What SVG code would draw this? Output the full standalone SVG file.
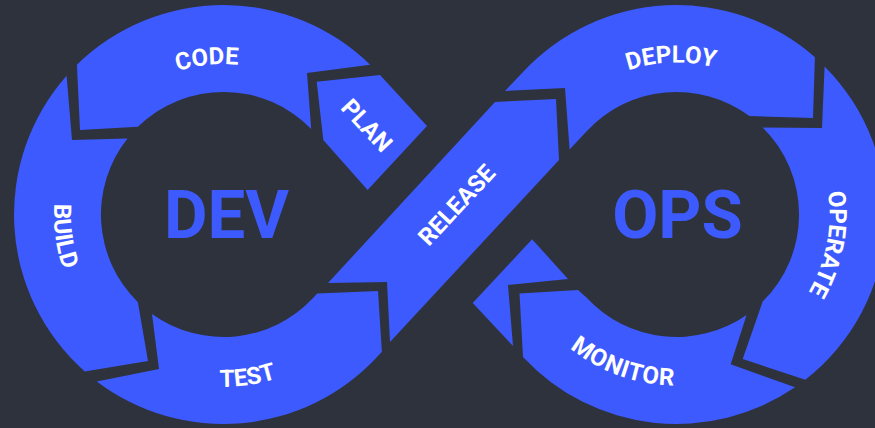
<svg xmlns="http://www.w3.org/2000/svg" width="875" height="428" viewBox="0 0 875 428">
  <defs>
    <style>
      .seg { fill: #3d5afe; }
      .lbl { font-family: Roboto, "Liberation Sans", Arial, sans-serif; font-weight: 700; font-size: 24px; fill: #ffffff; }
      .hub { font-family: Roboto, "Liberation Sans", Arial, sans-serif; font-weight: 700; font-size: 67px; fill: #3d5afe; text-anchor: middle; }
    </style>
    <!-- baseline arcs for the curved stage labels -->
    <path id="arc-code" d="M77.5,178.4 A150.4,150.4 0 0 1 358.6,148.3"/>
    <path id="arc-build" d="M144.7,64.4 A169.5,169.5 0 0 0 187.4,380.1"/>
    <path id="arc-test" d="M71.9,296.4 A172.3,172.3 0 0 0 392.3,249.1"/>
    <path id="arc-deploy" d="M531.9,167.5 A152,152 0 0 1 817.4,157.6"/>
    <path id="arc-operate" d="M755.1,83.2 A153,153 0 0 1 700.7,365.6"/>
    <path id="arc-monitor" d="M505.5,216 A171,171 0 0 0 808,323.8"/>
  </defs>

  <rect width="875" height="428" fill="#2e323c"/>

  <!-- DEV loop -->
  <g id="plan">
    <path class="seg" d="M316.7,81.7 L380,75 L427,126 L367.6,190 L323.3,140 Z"/>
    <path class="seg" d="M532.1,239.2 L568,279 L508,285 L513,346 L472.7,303.1 Z"/>
    <text class="lbl" text-anchor="middle" transform="translate(360.7,131) rotate(47)">PLAN</text>
  </g>

  <g id="code">
    <path class="seg" d="M370.1,64.8 A209.5,209.5 0 0 0 76.9,64.8 L80,130 L137.9,126.8 A122.5,122.5 0 0 1 311.2,128.9 L307,73 Z"/>
    <text class="lbl"><textPath href="#arc-code" startOffset="50%" text-anchor="middle">CODE</textPath></text>
  </g>

  <g id="build">
    <path class="seg" d="M66.6,75.7 A209.5,209.5 0 0 0 84.7,371.4 L148,361 L137.9,302.2 A122.5,122.5 0 0 1 127.5,138.4 L72,140 Z"/>
    <text class="lbl"><textPath href="#arc-build" startOffset="50%" text-anchor="middle">BUILD</textPath></text>
  </g>

  <g id="test">
    <path class="seg" d="M96.8,381.4 A209.5,209.5 0 0 0 377,357 L381.9,351.7 L378,291 L317.2,293.4 L313.3,297.8 A122.5,122.5 0 0 1 152,314 L159,369 Z"/>
    <text class="lbl"><textPath href="#arc-test" startOffset="50%" text-anchor="middle">TEST</textPath></text>
  </g>

  <g id="release">
    <path class="seg" d="M328,283 L495,102 L556,99 L559,160 L390,342 L387,282 Z"/>
    <text class="lbl" text-anchor="middle" transform="translate(462.8,210.5) rotate(-47)">RELEASE</text>
  </g>

  <!-- OPS loop -->
  <g id="deploy">
    <path class="seg" d="M505,91 L523,72 A209.5,209.5 0 0 1 814.9,57.2 L813,118 L749.4,116 A122.5,122.5 0 0 0 586.7,131.2 L569.6,149.5 L565,88 Z"/>
    <text class="lbl"><textPath href="#arc-deploy" startOffset="50%" text-anchor="middle">DEPLOY</textPath></text>
  </g>

  <g id="operate">
    <path class="seg" d="M824.6,66.4 A209.5,209.5 0 0 1 805.3,379.7 L742.7,359 L762.7,301.6 A122.5,122.5 0 0 0 762.7,127.4 L822,128 Z"/>
    <text class="lbl"><textPath href="#arc-operate" startOffset="50%" text-anchor="middle">OPERATE</textPath></text>
  </g>

  <g id="monitor">
    <path class="seg" d="M795,387.3 A209.5,209.5 0 0 1 523,357 L519.5,293.5 L578,290 L586.7,297.8 A122.5,122.5 0 0 0 746.6,314.9 L730.7,364.3 Z"/>
    <text class="lbl" letter-spacing="0.8"><textPath href="#arc-monitor" startOffset="50%" text-anchor="middle">MONITOR</textPath></text>
  </g>

  <!-- loop titles -->
  <g id="dev">
    <text class="hub" x="226.5" y="237.7">DEV</text>
  </g>
  <g id="ops">
    <text class="hub" x="677.5" y="237.5">OPS</text>
  </g>
</svg>
